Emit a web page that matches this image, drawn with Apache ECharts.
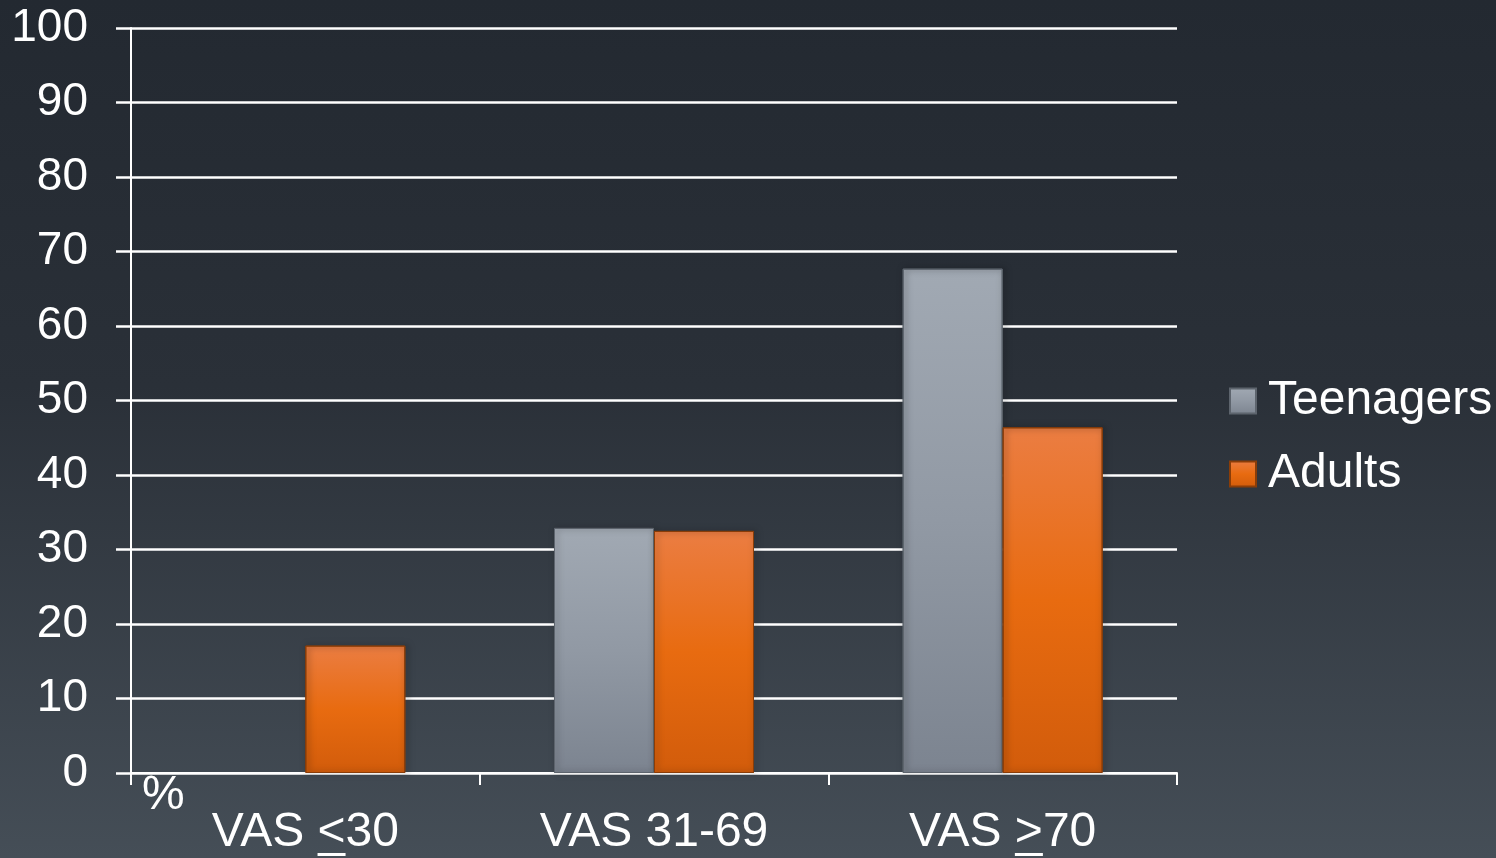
<!DOCTYPE html>
<html>
  <head>
    <meta charset="utf-8" />
    <title>VAS</title>
    <script src="https://cdn.jsdelivr.net/npm/echarts@6/dist/echarts.min.js"></script>
    <style type="text/css">
      html, body {
        margin: 0;
        padding: 0;
        width: 1496px;
        height: 858px;
        overflow: hidden;
        background: linear-gradient(to bottom, #232931 0%, #2a3038 45%, #454e57 100%);
      }
      #chart { width: 1496px; height: 858px; }
    </style>
  </head>
  <body>
    <div id="chart"></div>
    <script type="text/javascript">
      // 数据
      var categories = ['VAS <30', 'VAS 31-69', 'VAS >70'];
      var underlined = ['<', null, '>']; // 带下划线的符号（≤ / ≥）
      var teenagers = [0, 32.9, 67.7];
      var adults = [17.1, 32.5, 46.4];
      var yTicks = [0, 100, 10]; // min, max, interval

      var chart = echarts.init(document.getElementById('chart'), null, { renderer: 'canvas' });

      function grad(top, mid, bottom) {
        return new echarts.graphic.LinearGradient(0, 0, 0, 1, [
          { offset: 0, color: top },
          { offset: 0.5, color: mid },
          { offset: 1, color: bottom }
        ]);
      }

      var txt = '#ffffff';
      var font = 'Liberation Sans, Arial, sans-serif';
      var xFontSize = 48;

      // 值为0的柱子不画
      function barData(arr) {
        return arr.map(function (v) {
          return v === 0 ? { value: 0, itemStyle: { opacity: 0 } } : v;
        });
      }

      var option = {
        backgroundColor: 'transparent',
        animation: false,
        grid: { left: 131, right: 319, top: 28, bottom: 85 },
        legend: {
          orient: 'vertical',
          left: 1229,
          top: 377,
          padding: 0,
          itemWidth: 26,
          itemHeight: 25,
          itemGap: 25,
          icon: 'rect',
          textStyle: { color: txt, fontSize: 48, fontFamily: font, lineHeight: 48, padding: [0, 0, 0, 7] },
          data: ['Teenagers', 'Adults']
        },
        xAxis: {
          type: 'category',
          data: categories,
          axisLine: { lineStyle: { color: '#ffffff', width: 2 } },
          axisTick: { show: true, length: 12, lineStyle: { color: '#ffffff', width: 2 } },
          axisLabel: { color: txt, fontSize: xFontSize, fontFamily: font, margin: 36 }
        },
        yAxis: {
          type: 'value',
          min: yTicks[0],
          max: yTicks[1],
          interval: yTicks[2],
          axisLine: { show: true, lineStyle: { color: '#ffffff', width: 2 } },
          axisTick: { show: true, length: 15, lineStyle: { color: '#ffffff', width: 2.5 } },
          axisLabel: { color: txt, fontSize: 46, fontFamily: font, margin: 43 },
          splitLine: { lineStyle: { color: '#ffffff', width: 2.5 } }
        },
        series: [
          {
            name: 'Teenagers',
            type: 'bar',
            data: barData(teenagers),
            barWidth: 100,
            barGap: '0%',
            itemStyle: {
              color: grad('#a1a9b3', '#9199a4', '#7c8490'),
              borderColor: '#5d646d',
              borderWidth: 1,
              shadowColor: 'rgba(0,0,0,0.55)',
              shadowBlur: 6,
              shadowOffsetX: 2
            }
          },
          {
            name: 'Adults',
            type: 'bar',
            data: barData(adults),
            barWidth: 100,
            barGap: '0%',
            itemStyle: {
              color: grad('#eb7d42', '#e86b10', '#d25c0b'),
              borderColor: '#8a3d08',
              borderWidth: 1,
              shadowColor: 'rgba(0,0,0,0.55)',
              shadowBlur: 6,
              shadowOffsetX: 2
            }
          }
        ]
      };
      chart.setOption(option);

      // "%" 和下划线（把 < > 变成 ≤ ≥）
      var ctx = document.createElement('canvas').getContext('2d');
      ctx.font = xFontSize + 'px ' + font;
      var graphics = [{
        type: 'text',
        left: 142,
        top: 772,
        style: { text: '%', fill: txt, fontSize: 48, fontFamily: font }
      }];
      categories.forEach(function (c, i) {
        var u = underlined[i];
        if (!u) return;
        var cx = chart.convertToPixel({ xAxisIndex: 0 }, c);
        var start = cx - ctx.measureText(c).width / 2;
        var idx = c.indexOf(u);
        var x1 = start + ctx.measureText(c.slice(0, idx)).width;
        var x2 = start + ctx.measureText(c.slice(0, idx + 1)).width;
        graphics.push({
          type: 'rect',
          shape: { x: x1, y: 853, width: x2 - x1, height: 3 },
          style: { fill: txt }
        });
      });
      chart.setOption({ graphic: graphics });
    </script>
  </body>
</html>
